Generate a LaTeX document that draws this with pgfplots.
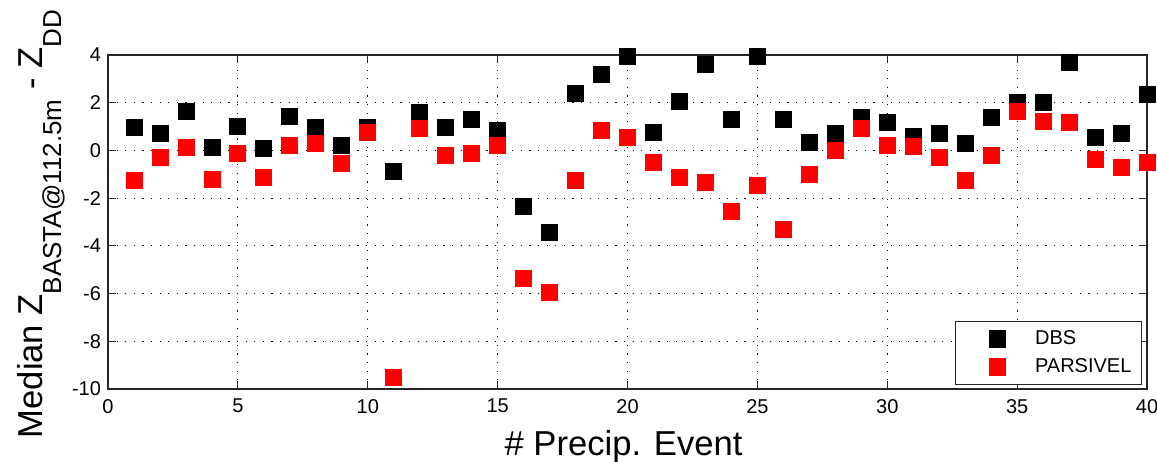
\documentclass[border=0pt]{standalone}
\usepackage{fontspec}
\setmainfont{Liberation Sans}
\usepackage{pgfplots}
\pgfplotsset{compat=1.18}

% median differences per precipitation event
\pgfplotstableread{
ev  dbs    pars
1   0.95  -1.26
2   0.70  -0.31
3   1.65   0.14
4   0.14  -1.22
5   1.02  -0.13
6   0.08  -1.12
7   1.44   0.21
8   0.95   0.29
9   0.22  -0.53
10  0.98   0.77
11 -0.87  -9.50
12  1.58   0.91
13  0.95  -0.20
14  1.30  -0.13
15  0.84   0.22
16 -2.36  -5.37
17 -3.43  -5.93
18  2.39  -1.26
19  3.19   0.84
20  3.94   0.56
21  0.74  -0.52
22  2.04  -1.12
23  3.61  -1.33
24  1.30  -2.55
25  3.93  -1.47
26  1.30  -3.29
27  0.35  -1.00
28  0.70   0.01
29  1.37   0.91
30  1.16   0.22
31  0.60   0.15
32  0.70  -0.31
33  0.29  -1.26
34  1.37  -0.20
35  2.02   1.65
36  2.00   1.23
37  3.67   1.16
38  0.56  -0.38
39  0.70  -0.73
40  2.35  -0.52
}\events

\newcommand{\sub}[1]{\raisebox{-9.5pt}{\fontsize{13}{15}\selectfont #1}}

\begin{document}
\begin{tikzpicture}
\begin{axis}[
  name=ax,
  scale only axis,
  width=519.5pt, height=167pt,
  xmin=0, xmax=40, ymin=-10, ymax=4,
  xtick={0,5,...,40}, ytick={-10,-8,...,4},
  tick align=inside,
  major tick length=4pt,
  xmajorgrids, ymajorgrids,
  grid style={black, line width=0.5pt, dash pattern=on 0.6pt off 3.7pt},
  axis line style={line width=0.7pt, black!85},
  every tick/.style={black!85, line width=0.6pt},
  tick label style={font=\fontsize{10}{12}\selectfont},
  xticklabel style={yshift=-1.5pt},
  yticklabel style={xshift=0pt},
  /pgf/number format/assume math mode=true,
  xlabel={\# Precip. Event},
  xlabel style={font=\fontsize{17.3}{20}\selectfont,
    at={(axis description cs:0.4962,-0.1976)}, anchor=base},
  ylabel={Median Z\sub{BASTA@112.5m} - Z\sub{DD}},
  ylabel style={font=\fontsize{17.3}{20}\selectfont,
    at={(axis description cs:-0.0635,0.4935)}, anchor=base},
  legend style={at={(0.9952,0.012)}, anchor=south east,
    draw=black!85, line width=0.6pt, fill=white,
    font=\fontsize{10}{12}\selectfont,
    inner xsep=3.5pt, inner ysep=3pt, row sep=2.5pt,
    nodes={inner sep=1.5pt}},
  legend cell align=left,
  legend image code/.code={%
    \draw[#1] plot coordinates {(0pt,0pt)};
    \path (-17pt,0pt) (17pt,0pt);},
]
\addplot[only marks, mark=square*, mark size=4pt, black, mark options={draw=none}]
  table[x=ev, y=dbs] {\events};
\addplot[only marks, mark=square*, mark size=4pt, red, mark options={draw=none}]
  table[x=ev, y=pars] {\events};
\legend{DBS,PARSIVEL}
\end{axis}
\pgfresetboundingbox
\path ([xshift=-54pt,yshift=27.5pt]ax.north west) ([xshift=5pt,yshift=-36pt]ax.south east);
\end{tikzpicture}
\end{document}
